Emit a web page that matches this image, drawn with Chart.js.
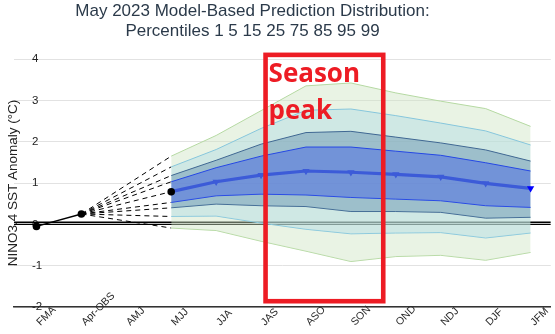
<!DOCTYPE html>
<html>
<head>
<meta charset="utf-8">
<script src="https://cdn.jsdelivr.net/npm/chart.js@4.4.1/dist/chart.umd.min.js"></script>
<style>
  html, body { margin: 0; padding: 0; background: #fff; }
</style>
</head>
<body>
<canvas id="chart" width="555" height="334"></canvas>
<script>
// season labels along the x axis (index = position)
const seasons = ['FMA', 'Apr-OBS', 'AMJ', 'MJJ', 'JJA', 'JAS', 'ASO', 'SON', 'OND', 'NDJ', 'DJF', 'JFM'];

// observed values (FMA, Apr-OBS)
const obsIdx = [0, 1];
const obsValues = [-0.05, 0.25];

// forecast seasons MJJ..JFM
const fcstIdx = [3, 4, 5, 6, 7, 8, 9, 10, 11];
const p99 = [1.65, 2.15, 2.75, 3.35, 3.42, 3.18, 2.98, 2.80, 2.37];
const p95 = [1.39, 1.81, 2.32, 2.76, 2.79, 2.63, 2.45, 2.26, 1.92];
const p85 = [1.18, 1.55, 1.94, 2.22, 2.25, 2.11, 1.97, 1.80, 1.53];
const p75 = [1.03, 1.37, 1.65, 1.87, 1.87, 1.77, 1.67, 1.49, 1.29];
const p50 = [0.79, 1.03, 1.19, 1.29, 1.26, 1.21, 1.15, 0.99, 0.87];
const p25 = [0.53, 0.69, 0.73, 0.71, 0.65, 0.61, 0.57, 0.45, 0.41];
const p15 = [0.40, 0.49, 0.45, 0.43, 0.31, 0.31, 0.29, 0.15, 0.17];
const p5  = [0.19, 0.20, 0.03, -0.12, -0.23, -0.21, -0.20, -0.33, -0.21];
const p1  = [-0.09, -0.15, -0.41, -0.65, -0.90, -0.78, -0.75, -0.87, -0.68];

// reference lines near zero
const zeroLevels = [0, 0.05];
const yTicks = [-2, -1, 0, 1, 2, 3, 4];

const pts = (vals) => vals.map((v, i) => ({ x: fcstIdx[i], y: v }));

// band helper: upper edge fills down to the lower edge (next dataset)
function band(upper, lower, lineColor, fillColor, order) {
  return [
    { data: pts(upper), borderColor: lineColor, borderWidth: 1, backgroundColor: fillColor,
      fill: '+1', pointRadius: 0, order: order },
    { data: pts(lower), borderColor: lineColor, borderWidth: 1, fill: false,
      pointRadius: 0, order: order }
  ];
}

const datasets = [];

zeroLevels.forEach(z => {
  datasets.push({ data: [{ x: -0.5, y: z }, { x: 11.45, y: z }], borderColor: '#000',
    borderWidth: 1.3, pointRadius: 0, fill: false, order: 30 });
});

// dashed fan from the last observation to the first forecast season
[p99, p95, p85, p75, p50, p25, p15, p5, p1].forEach(p => {
  datasets.push({ data: [{ x: obsIdx[1], y: obsValues[1] }, { x: fcstIdx[0], y: p[0] }],
    borderColor: '#000', borderWidth: 1, borderDash: [5, 4], pointRadius: 0, fill: false, order: 25 });
});

datasets.push(...band(p99, p1, '#b5d9a2', 'rgba(206,228,195,0.45)', 14));
datasets.push(...band(p95, p5, '#86c6dc', 'rgba(175,219,228,0.45)', 13));
datasets.push(...band(p85, p15, '#3f6792', 'rgba(98,143,172,0.45)', 12));
datasets.push(...band(p75, p25, '#2447e4', 'rgba(62,94,232,0.45)', 11));

// median with down-pointing triangles
datasets.push({ data: pts(p50), borderColor: '#3c5bd8', borderWidth: 3.2, fill: false,
  pointStyle: 'triangle', rotation: 180, pointRadius: 4.2, pointBorderWidth: 0,
  pointBackgroundColor: p50.map((_, i) => i === p50.length - 1 ? '#0000ff' : '#3c5bd8'),
  order: 5 });

// observed line + dots
datasets.push({ data: obsIdx.map((x, i) => ({ x: x, y: obsValues[i] })), borderColor: '#000',
  borderWidth: 1.3, pointRadius: 3.8, pointBackgroundColor: '#000', pointBorderWidth: 0,
  fill: false, order: 2 });
datasets.push({ data: [{ x: fcstIdx[0], y: p50[0] }], showLine: false, pointRadius: 3.8,
  pointBackgroundColor: '#000', pointBorderWidth: 0, order: 1 });

// title sits a bit left of canvas centre in the original
const shiftTitle = {
  id: 'shiftTitle',
  afterLayout(chart) {
    const t = chart.titleBlock;
    if (t) { t.left -= 25; t.right -= 25; }
  }
};

// rotated season labels, anchored at their start
const seasonLabels = {
  id: 'seasonLabels',
  afterDraw(chart) {
    const ctx = chart.ctx;
    const xs = chart.scales.x;
    ctx.save();
    ctx.font = '10.5px "Liberation Sans", Arial, sans-serif';
    ctx.fillStyle = '#2a2a2a';
    ctx.textAlign = 'left';
    ctx.textBaseline = 'alphabetic';
    seasons.forEach((s, i) => {
      ctx.save();
      ctx.translate(xs.getPixelForValue(i) + 4, 326);
      ctx.rotate(-Math.PI / 4);
      ctx.fillText(s, 0, 0);
      ctx.restore();
    });
    ctx.restore();
  }
};

// red "Season peak" box
const peakBox = {
  id: 'peakBox',
  afterDraw(chart) {
    const ctx = chart.ctx;
    const xs = chart.scales.x, ys = chart.scales.y;
    const l = xs.getPixelForValue(5.1), r = xs.getPixelForValue(7.72);
    const t = ys.getPixelForValue(4.1), b = ys.getPixelForValue(-1.86);
    ctx.save();
    ctx.strokeStyle = '#ed1c24';
    ctx.lineWidth = 4.6;
    ctx.strokeRect(l, t, r - l, b - t);
    ctx.fillStyle = '#ed1c24';
    ctx.font = 'bold 26px "Open Sans", "Noto Sans", sans-serif';
    ctx.textAlign = 'left';
    ctx.textBaseline = 'alphabetic';
    ctx.fillText('Season', l + 3, t + 27);
    ctx.fillText('peak', l + 3, t + 64);
    ctx.restore();
  }
};

new Chart(document.getElementById('chart'), {
  type: 'line',
  data: { datasets: datasets },
  options: {
    responsive: false,
    animation: false,
    devicePixelRatio: 1,
    layout: { padding: 0 },
    elements: { line: { tension: 0 } },
    plugins: {
      legend: { display: false },
      tooltip: { enabled: false },
      title: {
        display: true,
        text: ['May 2023 Model-Based Prediction Distribution:', 'Percentiles 1 5 15 25 75 85 95 99'],
        color: '#2b3a4a',
        font: { family: '"Liberation Sans", Arial, sans-serif', size: 17, weight: 'normal', lineHeight: 1.2 },
        padding: { top: 1, bottom: 17.2 }
      }
    },
    scales: {
      x: {
        type: 'linear',
        min: -0.5,
        max: 11.45,
        grid: { display: false },
        border: { display: true, color: '#333', width: 1.5 },
        ticks: { display: false },
        afterFit(scale) { scale.height = 27; }
      },
      y: {
        min: -2,
        max: 4,
        afterBuildTicks(scale) { scale.ticks = yTicks.map(v => ({ value: v })); },
        grid: { color: '#e2e2e2', lineWidth: 1, drawTicks: false },
        border: { display: false },
        ticks: {
          mirror: true,
          padding: 18,
          color: '#222',
          font: { family: '"Liberation Sans", Arial, sans-serif', size: 11.5 }
        },
        title: {
          display: true,
          text: 'NINO3.4 SST Anomaly (°C)',
          color: '#222',
          font: { family: '"Liberation Sans", Arial, sans-serif', size: 13.5 },
          padding: { top: 5, bottom: 0 }
        },
        afterFit(scale) { scale.width = 14; }
      }
    }
  },
  plugins: [shiftTitle, seasonLabels, peakBox]
});
</script>
</body>
</html>
